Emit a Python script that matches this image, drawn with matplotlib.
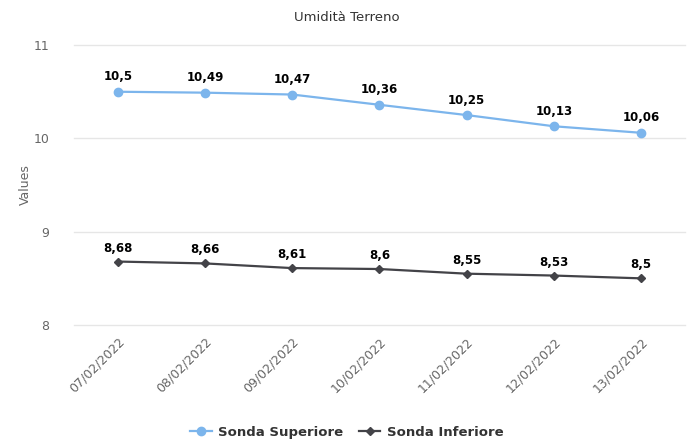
import matplotlib
matplotlib.use("Agg")
import matplotlib.pyplot as plt
from matplotlib.lines import Line2D

dates = ['07/02/2022', '08/02/2022', '09/02/2022', '10/02/2022',
         '11/02/2022', '12/02/2022', '13/02/2022']
sonda_superiore = [10.5, 10.49, 10.47, 10.36, 10.25, 10.13, 10.06]
sonda_inferiore = [8.68, 8.66, 8.61, 8.6, 8.55, 8.53, 8.5]
y_ticks = [8, 9, 10, 11]

blue = '#7cb5ec'
dark = '#434348'

plt.rcParams['font.family'] = ['DejaVu Sans']

fig = plt.figure(figsize=(6.94, 4.42), dpi=100)
ax = fig.add_axes([0.107, 0.2647, 0.8795, 0.6333])

x = list(range(len(dates)))
ax.plot(x, sonda_superiore, color=blue, lw=1.6, marker='o', ms=6, zorder=3)
ax.plot(x, sonda_inferiore, color=dark, lw=1.6, marker='D', ms=4.5, zorder=3)

def fmt(v):
    s = ('%.2f' % v).rstrip('0').rstrip('.')
    return s.replace('.', ',')

for xi, v in zip(x, sonda_superiore):
    ax.annotate(fmt(v), (xi, v), xytext=(0, 6), textcoords='offset points',
                ha='center', va='bottom', fontsize=8.5, fontweight='bold', color='#000000')
for xi, v in zip(x, sonda_inferiore):
    ax.annotate(fmt(v), (xi, v), xytext=(0, 5), textcoords='offset points',
                ha='center', va='bottom', fontsize=8.5, fontweight='bold', color='#000000')

ax.set_xlim(-0.5, len(dates) - 0.5)
ax.set_ylim(8, 11)
ax.set_yticks(y_ticks)
ax.set_yticklabels([str(t) for t in y_ticks], fontsize=9, color='#666666')
for t in y_ticks:
    ax.axhline(t, color='#e6e6e6', lw=1, zorder=0, clip_on=False)
ax.tick_params(axis='y', length=0, pad=18)
ax.set_xticks(x)
ax.set_xticklabels(dates, rotation=45, ha='right', rotation_mode='anchor',
                   fontsize=9, color='#666666')
ax.tick_params(axis='x', length=0, pad=7)
for s in ax.spines.values():
    s.set_visible(False)

ax.set_ylabel('Values', fontsize=9, color='#666666', labelpad=1)

fig.text(0.5, 0.96, 'Umidità Terreno', ha='center', va='center',
         fontsize=9.5, color='#333333')

handles = [
    Line2D([], [], color=blue, lw=1.6, marker='o', ms=6),
    Line2D([], [], color=dark, lw=1.6, marker='D', ms=4.5),
]
fig.legend(handles, ['Sonda Superiore', 'Sonda Inferiore'], loc='center',
           bbox_to_anchor=(0.5, 0.022), ncol=2, frameon=False,
           prop={'weight': 'bold', 'size': 9.5}, handlelength=1.6,
           columnspacing=1.2, handletextpad=0.5, labelcolor='#333333')

fig.savefig('out.png', dpi=100, facecolor='white')
